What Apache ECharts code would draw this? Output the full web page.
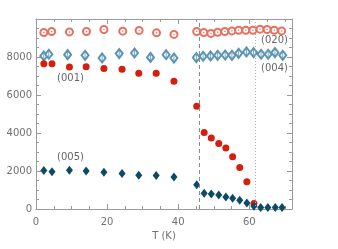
<!DOCTYPE html>
<html>
<head>
<meta charset="utf-8">
<script src="https://cdn.jsdelivr.net/npm/echarts@6/dist/echarts.min.js"></script>
<style>html,body{margin:0;padding:0;background:#fff}#c{width:338px;height:249px}</style>
</head>
<body>
<div id="c"></div>
<script>
// Temperature (K) and intensities
const T001 = [2.2,4.5,9.4,14.1,19.1,24.2,28.9,33.8,38.8,45.2,47.3,49.3,51.4,53.4,55.3,57.3,59.3,61.3];
const I001 = [7650,7650,7470,7490,7400,7350,7150,7150,6730,5410,4020,3740,3450,3210,2750,2180,1440,290];

const T005 = [2.2,4.5,9.4,14.1,19.1,24.2,28.9,33.8,38.8,45.2,47.3,49.3,51.4,53.4,55.3,57.3,59.3,61.3,63.2,65.2,67.3,69.2];
const I005 = [2025,1960,2045,1995,1940,1870,1780,1760,1690,1270,830,795,740,635,565,460,317,150,75,75,75,75];

const T020 = [2.2,4.4,9.4,14.2,19.1,24.4,29.0,33.9,38.8,45.2,47.2,49.2,51.1,53.1,55.1,57.0,59.0,61.0,63.0,65.0,67.0,69.1];
const I020 = [9290,9340,9320,9345,9450,9360,9400,9270,9190,9345,9290,9240,9305,9345,9375,9410,9410,9410,9465,9450,9410,9375];

const T004 = [2.2,3.6,8.9,13.8,18.6,23.4,27.7,32.2,36.6,38.8,45.1,47.0,49.1,51.1,53.2,55.1,57.0,59.2,61.2,63.3,65.3,67.2,69.4];
const I004 = [8055,8145,8125,8090,7950,8180,8210,7980,8120,7945,7970,8040,8055,8090,8105,8090,8195,8265,8235,8145,8145,8235,8090];

const xTicks = [0, 20, 40, 60];
const yTicks = [0, 2000, 4000, 6000, 8000];
const T_dashed = 45.9;
const T_dotted = 61.7;
const peakLabels = ['(001)', '(005)', '(020)', '(004)'];

const zip = (a, b) => a.map((v, i) => [v, b[i]]);

const axisGrey = '#9a9a9a';
const labelGrey = '#707070';

const chart = echarts.init(document.getElementById('c'), null, {renderer: 'canvas'});

function xAx(pos, showLabel) {
  return {
    type: 'value', position: pos, min: 0, max: 72, interval: 20,
    axisLine: {show: true, onZero: false, lineStyle: {color: axisGrey, width: 1}},
    axisTick: {show: true, inside: true, length: 5, lineStyle: {color: axisGrey}},
    minorTick: {show: true, splitNumber: 4, length: 3, lineStyle: {color: axisGrey}},
    splitLine: {show: false},
    axisLabel: {show: showLabel, color: labelGrey, fontFamily: 'DejaVu Sans', fontSize: 10, margin: 8,
      formatter: v => xTicks.indexOf(v) >= 0 ? String(v) : ''},
    name: showLabel ? 'T (K)' : '', nameLocation: 'middle', nameGap: 20,
    nameTextStyle: {color: labelGrey, fontFamily: 'DejaVu Sans', fontSize: 10}
  };
}
function yAx(pos, showLabel) {
  return {
    type: 'value', position: pos, min: 0, max: 10000, interval: 2000,
    axisLine: {show: true, onZero: false, lineStyle: {color: axisGrey, width: 1}},
    axisTick: {show: true, inside: true, length: 5, lineStyle: {color: axisGrey}},
    minorTick: {show: true, splitNumber: 4, length: 3, lineStyle: {color: axisGrey}},
    splitLine: {show: false},
    axisLabel: {show: showLabel, color: labelGrey, fontFamily: 'DejaVu Sans', fontSize: 10, margin: 4,
      formatter: v => yTicks.indexOf(v) >= 0 ? String(v) : ''}
  };
}

const c020 = '#e8705f', c004 = '#5b93b2', c001 = '#d41f10', c005 = '#0c4a67';

chart.setOption({
  animation: false,
  grid: {left: 36, right: 46, top: 19, bottom: 40},
  xAxis: [xAx('bottom', true), xAx('top', false)],
  yAxis: [yAx('left', true), yAx('right', false)],
  series: [
    {type: 'scatter', data: zip(T020, I020), symbol: 'emptyCircle', symbolSize: 7,
     itemStyle: {color: c020, borderColor: c020, borderWidth: 0.8, opacity: 1},
     markLine: {silent: true, symbol: 'none', label: {show: false},
       data: [
         {xAxis: T_dashed, lineStyle: {color: '#8a8a8a', type: [4, 3], width: 1}},
         {xAxis: T_dotted, lineStyle: {color: '#b0b0b0', type: [1, 2], width: 1}}
       ]}},
    {type: 'scatter', data: zip(T020, I020), symbol: 'circle', symbolSize: 1.5,
     itemStyle: {color: c020, opacity: 1}},
    {type: 'scatter', data: zip(T004, I004), symbol: 'emptyDiamond', symbolSize: [7, 9],
     itemStyle: {color: c004, borderColor: c004, borderWidth: 0.8, opacity: 1}},
    {type: 'scatter', data: zip(T004, I004), symbol: 'rect', symbolSize: [0.8, 6],
     itemStyle: {color: c004, opacity: 1}},
    {type: 'scatter', data: zip(T001, I001), symbol: 'circle', symbolSize: 7,
     itemStyle: {color: c001, opacity: 1}},
    {type: 'scatter', data: zip(T005, I005), symbol: 'diamond', symbolSize: [7, 9],
     itemStyle: {color: c005, opacity: 1}}
  ],
  graphic: [
    {type: 'text', left: 57, top: 73, style: {text: peakLabels[0], fill: '#666', font: '10px "DejaVu Sans"'}},
    {type: 'text', left: 57, top: 152, style: {text: peakLabels[1], fill: '#666', font: '10px "DejaVu Sans"'}},
    {type: 'text', left: 261, top: 35, style: {text: peakLabels[2], fill: '#666', font: '10px "DejaVu Sans"'}},
    {type: 'text', left: 261, top: 63, style: {text: peakLabels[3], fill: '#666', font: '10px "DejaVu Sans"'}}
  ]
});
</script>
</body>
</html>
